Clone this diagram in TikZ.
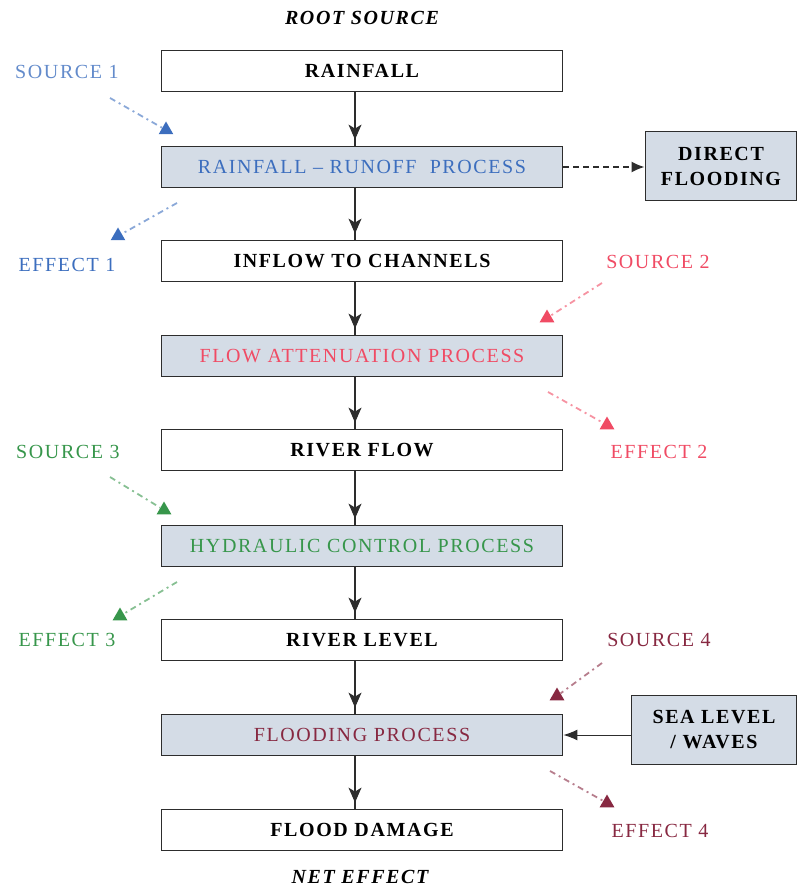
\documentclass[tikz,border=0pt]{standalone}
\usepackage{xcolor}
\usepackage{fontspec}
\setmainfont{Liberation Serif}[LetterSpace=8]
\usepackage{tikz}
\usetikzlibrary{arrows.meta, decorations.markings, shapes.geometric}
\definecolor{procfill}{RGB}{212,220,230}
\definecolor{linegray}{RGB}{45,45,45}
\definecolor{srcblue}{RGB}{60,110,190}
\definecolor{srcred}{RGB}{240,75,100}
\definecolor{srcgreen}{RGB}{55,150,75}
\definecolor{srcmaroon}{RGB}{135,40,65}
\newcommand{\boxfont}{\fontsize{20}{25}\selectfont}

\begin{document}
\begin{tikzpicture}[x=1pt, y=-1pt, font=\boxfont]
\tikzstyle{stage}=[draw=linegray, line width=1.8pt, minimum width=401pt, minimum height=41pt, inner sep=0pt, font=\boxfont\bfseries]
\tikzstyle{process}=[stage, fill=procfill, font=\boxfont]
\tikzstyle{sidebox}=[stage, fill=procfill, minimum height=69pt, align=center]
\tikzstyle{tag}=[inner sep=2pt]
\tikzstyle{marker}=[regular polygon, regular polygon sides=3, minimum size=17pt, inner sep=0pt]
\tikzstyle{flow}=[draw=linegray, line width=1.8pt, postaction={decorate},
  decoration={markings, mark=at position -6pt with {\arrow[fill=linegray, draw=linegray, line width=1pt]{Stealth[length=15pt, width=13pt, inset=4pt]}}}]
\tikzstyle{link}=[line width=1.8pt, dash pattern=on 6pt off 4pt on 2pt off 4pt]
\useasboundingbox (0,0) rectangle (798,890);

% main chain
\node[font=\boxfont\bfseries\itshape] (root) at (362,18) {ROOT SOURCE};
\node[stage] (rain) at (362,71) {RAINFALL};
\node[process, text=srcblue] (runoff) at (362,167) {RAINFALL -- RUNOFF\ \ PROCESS};
\node[stage] (inflow) at (362,261) {INFLOW TO CHANNELS};
\node[process, text=srcred] (atten) at (362,356) {FLOW ATTENUATION PROCESS};
\node[stage] (riverflow) at (362,450) {RIVER FLOW};
\node[process, text=srcgreen] (hydro) at (362,546) {HYDRAULIC CONTROL PROCESS};
\node[stage] (riverlevel) at (362,640) {RIVER LEVEL};
\node[process, text=srcmaroon] (flooding) at (362,735) {FLOODING PROCESS};
\node[stage] (damage) at (362,830) {FLOOD DAMAGE};
\node[font=\boxfont\bfseries\itshape] (net) at (360,877) {NET EFFECT};

% side inputs and outputs
\node[sidebox, minimum width=151pt] (direct) at (721,166) {DIRECT\\FLOODING};
\node[sidebox, minimum width=165pt] (sea) at (714,730) {SEA LEVEL\\/ WAVES};

\path
([xshift=-7pt]rain.south) edge[flow] ([xshift=-7pt]runoff.north)
([xshift=-7pt]runoff.south) edge[flow] ([xshift=-7pt]inflow.north)
([xshift=-7pt]inflow.south) edge[flow] ([xshift=-7pt]atten.north)
([xshift=-7pt]atten.south) edge[flow] ([xshift=-7pt]riverflow.north)
([xshift=-7pt]riverflow.south) edge[flow] ([xshift=-7pt]hydro.north)
([xshift=-7pt]hydro.south) edge[flow] ([xshift=-7pt]riverlevel.north)
([xshift=-7pt]riverlevel.south) edge[flow] ([xshift=-7pt]flooding.north)
([xshift=-7pt]flooding.south) edge[flow] ([xshift=-7pt]damage.north);

\path
(runoff.east) edge[draw=linegray, line width=1.8pt, dash pattern=on 6pt off 4pt, -{Latex[length=13pt, width=11pt]}] (direct.west |- runoff.east)
(sea.west |- flooding.east) edge[draw=linegray, line width=1pt, -{Latex[length=14pt, width=11pt]}] (flooding.east);

% sources and effects
\node[tag, text=srcblue!80] (src1) at (67,72) {SOURCE 1};
\node[tag, text=srcblue] (eff1) at (67,265) {EFFECT 1};
\node[tag, text=srcred] (src2) at (658,262) {SOURCE 2};
\node[tag, text=srcred] (eff2) at (659,452) {EFFECT 2};
\node[tag, text=srcgreen] (src3) at (68,452) {SOURCE 3};
\node[tag, text=srcgreen] (eff3) at (67,640) {EFFECT 3};
\node[tag, text=srcmaroon] (src4) at (659,640) {SOURCE 4};
\node[tag, text=srcmaroon] (eff4) at (660,831) {EFFECT 4};

\node[marker, fill=srcblue] (s1tip) at (166,130) {};
\node[marker, fill=srcblue] (e1tip) at (118,236) {};
\node[marker, fill=srcred] (s2tip) at (547,318) {};
\node[marker, fill=srcred] (e2tip) at (607,425) {};
\node[marker, fill=srcgreen] (s3tip) at (164,510) {};
\node[marker, fill=srcgreen] (e3tip) at (120,616) {};
\node[marker, fill=srcmaroon] (s4tip) at (557,696) {};
\node[marker, fill=srcmaroon] (e4tip) at (607,803) {};

\coordinate (s1a) at (110,98);
\coordinate (e1a) at (177,203);
\coordinate (s2a) at (602,283);
\coordinate (e2a) at (548,392);
\coordinate (s3a) at (110,477);
\coordinate (e3a) at (177,582);
\coordinate (s4a) at (602,663);
\coordinate (e4a) at (550,771);

\path[link]
(s1a) edge[draw=srcblue!60] (s1tip)
(e1a) edge[draw=srcblue!60] (e1tip)
(s2a) edge[draw=srcred!60] (s2tip)
(e2a) edge[draw=srcred!60] (e2tip)
(s3a) edge[draw=srcgreen!60] (s3tip)
(e3a) edge[draw=srcgreen!60] (e3tip)
(s4a) edge[draw=srcmaroon!60] (s4tip)
(e4a) edge[draw=srcmaroon!60] (e4tip);
\end{tikzpicture}
\end{document}
